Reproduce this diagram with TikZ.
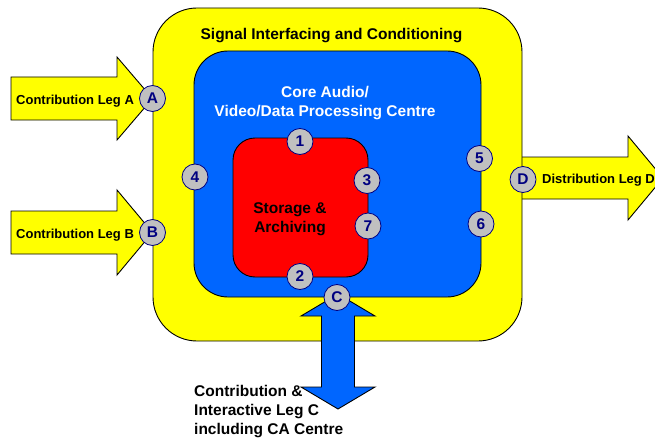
\documentclass[tikz,border=0pt]{standalone}
\usepackage{fontspec}
\setmainfont{Liberation Sans}
\definecolor{ylw}{RGB}{255,255,0}
\definecolor{blu}{RGB}{0,102,255}
\definecolor{rd}{RGB}{255,0,0}
\definecolor{navy}{RGB}{0,0,128}
\definecolor{gry}{RGB}{192,192,192}
\begin{document}
\begin{tikzpicture}[x=1pt,y=-1pt,
  box/.style={draw=black, line width=0.9pt, inner sep=0pt, outer sep=0pt},
  port/.style={circle, draw=navy, fill=gry, line width=0.8pt, minimum size=26pt, inner sep=0pt, font=\fontsize{15.5}{16}\selectfont\bfseries, text=navy},
  lbl/.style={font=\fontsize{15.5}{19}\selectfont\bfseries, inner sep=0pt, anchor=base},
  leg/.style={font=\fontsize{13}{15}\selectfont\bfseries, inner sep=0pt, anchor=base west},
  yarrow/.style={draw=black, fill=ylw, line width=0.9pt, line join=miter},
]
\clip (0,0) rectangle (655,441);
% input / output arrows
\draw[yarrow] (11,77) -- (117,77) -- (117,57) -- (152.5,98.5) -- (117,140) -- (117,120) -- (11,120) -- cycle;
\draw[yarrow] (11,211) -- (117,211) -- (117,190) -- (152.5,232.5) -- (117,275) -- (117,254) -- (11,254) -- cycle;
\draw[yarrow] (515,157) -- (628,157) -- (628,136) -- (663,178) -- (628,220) -- (628,199) -- (515,199) -- cycle;
% boxes
\node[box, fill=ylw, rounded corners=44pt, minimum width=369pt, minimum height=333pt] (outer) at (337.5,174.5) {};
\node[box, fill=blu, rounded corners=34pt, minimum width=287pt, minimum height=246pt] (core) at (337.5,174) {};
\node[box, fill=rd, rounded corners=22pt, minimum width=135pt, minimum height=139pt] (store) at (300.5,207.5) {};
% double arrow C
\draw[box, fill=blu, line join=miter] (338,294) -- (375,316) -- (354.5,316) -- (354.5,387) -- (375,387) -- (338,409) -- (301,387) -- (321.5,387) -- (321.5,316) -- (301,316) -- cycle;
% texts
\node[lbl] (title) at (331.5,40) {Signal Interfacing and Conditioning};
\node[lbl, text=white] (core1) at (325,98) {Core Audio/};
\node[lbl, text=white] (core2) at (325,117) {Video/Data Processing Centre};
\node[lbl] (stor1) at (290,213.5) {Storage \&};
\node[lbl] (stor2) at (290,232.5) {Archiving};
\node[leg] (legA) at (16,105) {Contribution Leg A};
\node[leg] (legB) at (16,238) {Contribution Leg B};
\node[leg] (legD) at (542,183.5) {Distribution Leg D};
\node[lbl, anchor=base west] (legC1) at (194,396) {Contribution \&};
\node[lbl, anchor=base west] (legC2) at (194,415) {Interactive Leg C};
\node[lbl, anchor=base west] (legC3) at (194,434) {including CA Centre};
% ports
\node[port] (pA) at (152.5,98.5) {A};
\node[port] (pB) at (152.5,232.5) {B};
\node[port] (pC) at (337,297.5) {C};
\node[port] (pD) at (523,179.5) {D};
\node[port] (p1) at (300,141.5) {1};
\node[port] (p2) at (300,276.5) {2};
\node[port] (p3) at (367,180.5) {3};
\node[port] (p4) at (195,177) {4};
\node[port] (p5) at (479.5,158.5) {5};
\node[port] (p6) at (481,224) {6};
\node[port] (p7) at (368,226) {7};
\end{tikzpicture}
\end{document}
